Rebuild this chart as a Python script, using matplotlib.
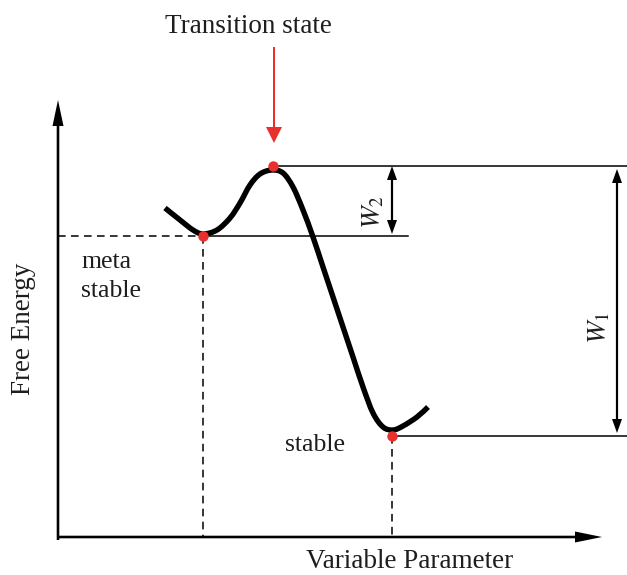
import matplotlib
matplotlib.use("Agg")
import matplotlib.pyplot as plt
from matplotlib.path import Path
from matplotlib.patches import PathPatch

plt.rcParams['font.family'] = ['Liberation Serif', 'DejaVu Serif']
plt.rcParams['mathtext.fontset'] = 'stix'

# Free-energy curve (pixel-like units, y downward)
curve_x = [165, 180, 193, 203, 217, 230, 240, 250, 260, 272, 283, 293, 303,
           313, 323, 333, 343, 353, 363, 373, 383, 393, 403, 417, 428]
curve_y = [208, 220, 230, 234, 230, 218, 203, 185, 174, 170, 173, 187, 210,
           237, 267, 297, 327, 357, 387, 413, 427, 430, 426, 417, 407]

# Characteristic points
meta_x, meta_level = 203, 236
ts_x, ts_level = 273, 166
stable_x, stable_level = 392, 436

# Axes geometry
origin_x, origin_y = 58, 537
y_axis_top = 100
x_axis_right = 602

labels = {
    'title': 'Transition state',
    'xlabel': 'Variable Parameter',
    'ylabel': 'Free Energy',
    'stable': 'stable',
    'w1': '$W_1$',
    'w2': '$W_2$',
}

fig = plt.figure(figsize=(6.27, 5.75), dpi=100)
ax = fig.add_axes([0, 0, 1, 1])
ax.set_xlim(0, 627)
ax.set_ylim(575, 0)
ax.axis('off')

# Axes arrows
ax.arrow(origin_x, origin_y + 3, 0, y_axis_top - origin_y - 3, width=2.6,
         head_width=11, head_length=26, length_includes_head=True,
         fc='k', ec='k', lw=0)
ax.arrow(origin_x - 1, origin_y, x_axis_right - origin_x + 1, 0, width=2.6,
         head_width=11, head_length=27, length_includes_head=True,
         fc='k', ec='k', lw=0)

# Reference lines
ax.plot([origin_x, meta_x], [meta_level, meta_level], color='k', lw=1.1,
        ls=(0, (5, 3.5)))
ax.plot([meta_x, 408], [meta_level, meta_level], color='k', lw=1.1)
ax.plot([ts_x, 627], [ts_level, ts_level], color='k', lw=1.1)
ax.plot([stable_x, 627], [stable_level, stable_level], color='k', lw=1.1)
ax.plot([meta_x, meta_x], [meta_level, origin_y], color='k', lw=1.1,
        ls=(0, (5, 3.5)))
ax.plot([stable_x, stable_x], [stable_level, origin_y], color='k', lw=1.1,
        ls=(0, (5, 3.5)))

# Curve drawn as smooth cubic Bezier segments through the read points
pts = list(zip(curve_x, curve_y))
verts = [pts[0]]
codes = [Path.MOVETO]
n = len(pts)
for i in range(n - 1):
    p0 = pts[i - 1] if i > 0 else pts[i]
    p1 = pts[i]
    p2 = pts[i + 1]
    p3 = pts[i + 2] if i + 2 < n else pts[i + 1]
    c1 = (p1[0] + (p2[0] - p0[0]) / 6, p1[1] + (p2[1] - p0[1]) / 6)
    c2 = (p2[0] - (p3[0] - p1[0]) / 6, p2[1] - (p3[1] - p1[1]) / 6)
    verts += [c1, c2, p2]
    codes += [Path.CURVE4] * 3
ax.add_patch(PathPatch(Path(verts, codes), fill=False, ec='k', lw=3.9,
                       capstyle='butt', joinstyle='round', zorder=3))

# Red dots
ax.plot([meta_x, ts_x, stable_x], [meta_level, ts_level, stable_level], 'o',
        color='#e8312f', ms=7.5, mec='none', zorder=4)

# Double arrows W2 and W1
def double_arrow(x, y0, y1):
    mid = (y0 + y1) / 2
    for end in (y0, y1):
        ax.arrow(x, mid, 0, end - mid, width=2.2, head_width=10,
                 head_length=14, length_includes_head=True,
                 fc='k', ec='k', lw=0)

double_arrow(392, ts_level, meta_level - 2)
double_arrow(617, ts_level + 3, stable_level - 3)

# Red arrow to transition state
ax.arrow(274, 47, 0, 96, width=2.0, head_width=16, head_length=16,
         length_includes_head=True, fc='#e8312f', ec='#e8312f', lw=0)

# Texts
fs = 19.5
tc = '#1e1e1e'
ax.text(248, 33, labels['title'], fontsize=fs, ha='center', va='baseline',
        color=tc)
ax.text(410, 568, labels['xlabel'], fontsize=fs, ha='center', va='baseline',
        color=tc)
ax.text(24, 329, labels['ylabel'], fontsize=fs, ha='center', va='center',
        rotation=90, color=tc)
ax.text(81, 268, 'meta', fontsize=fs - 1, ha='left', va='baseline', color=tc)
ax.text(81, 297, 'stable', fontsize=fs - 1, ha='left', va='baseline', color=tc)
ax.text(285, 451, labels['stable'], fontsize=fs - 1, ha='left', va='baseline',
        color=tc)
ax.text(374, 212, labels['w2'], fontsize=fs, ha='center', va='center',
        rotation=90, color=tc)
ax.text(600, 328, labels['w1'], fontsize=fs, ha='center', va='center',
        rotation=90, color=tc)

fig.savefig('out.png', dpi=100)
